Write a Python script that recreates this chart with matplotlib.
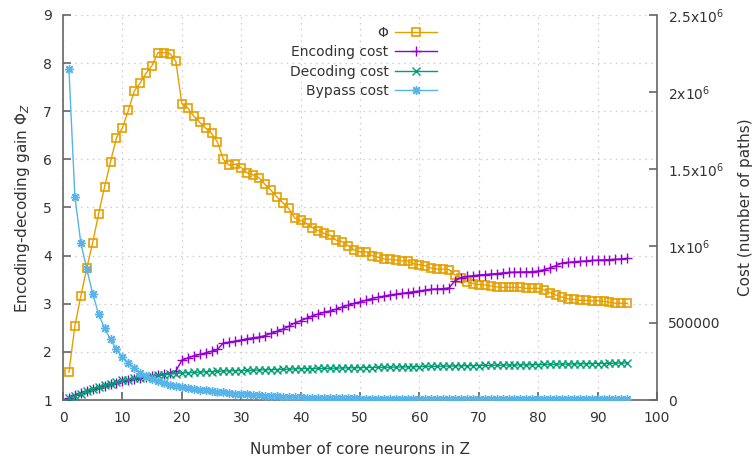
import matplotlib
matplotlib.use('Agg')
from matplotlib import pyplot as plt

# core neuron counts 1..95
neurons = list(range(1, 96))

phi = [1.58, 2.54, 3.16, 3.74, 4.27, 4.87, 5.43, 5.95, 6.45, 6.65,
       7.02, 7.42, 7.59, 7.79, 7.95, 8.22, 8.22, 8.20, 8.04, 7.16,
       7.07, 6.90, 6.77, 6.65, 6.54, 6.36, 6.00, 5.88, 5.90, 5.83,
       5.72, 5.68, 5.62, 5.48, 5.36, 5.22, 5.10, 4.98, 4.78, 4.73,
       4.67, 4.58, 4.52, 4.46, 4.42, 4.32, 4.29, 4.21, 4.12, 4.08,
       4.08, 4.00, 3.97, 3.93, 3.92, 3.91, 3.89, 3.89, 3.83, 3.81,
       3.79, 3.74, 3.72, 3.72, 3.71, 3.60, 3.53, 3.46, 3.42, 3.40,
       3.39, 3.37, 3.35, 3.34, 3.34, 3.34, 3.34, 3.32, 3.32, 3.32,
       3.29, 3.23, 3.18, 3.14, 3.10, 3.09, 3.07, 3.07, 3.06, 3.06,
       3.05, 3.03, 3.01, 3.01, 3.01]

encoding_cost = [14000, 32000, 48000, 60000, 69000, 79000, 90000, 102000, 113000, 122000,
                 129000, 137000, 143000, 150000, 156000, 162000, 168000, 176000, 188000, 258000,
                 273000, 287000, 296000, 306000, 316000, 328000, 370000, 376000, 382000, 390000,
                 398000, 404000, 409000, 418000, 432000, 445000, 460000, 478000, 500000, 515000,
                 530000, 546000, 560000, 570000, 578000, 590000, 604000, 616000, 627000, 638000,
                 648000, 659000, 667000, 674000, 682000, 687000, 692000, 698000, 703000, 708000,
                 714000, 719000, 721000, 723000, 728000, 775000, 795000, 802000, 807000, 812000,
                 814000, 818000, 821000, 825000, 828000, 830000, 831000, 832000, 833000, 838000,
                 846000, 858000, 872000, 890000, 894000, 897000, 900000, 903000, 906000, 908000,
                 910000, 912000, 914000, 916000, 920000]

decoding_cost = [10000, 26000, 42000, 58000, 71000, 84000, 97000, 107000, 117000, 127000,
                 133000, 140000, 146000, 151000, 156000, 160000, 164000, 169000, 172000, 175000,
                 177000, 179000, 181000, 183000, 185000, 186000, 188000, 189000, 190000, 191000,
                 192000, 193000, 195000, 196000, 197000, 198000, 199000, 200000, 202000, 203000,
                 204000, 204000, 205000, 206000, 206000, 207000, 208000, 209000, 209000, 210000,
                 211000, 211000, 212000, 213000, 213000, 214000, 215000, 215000, 216000, 217000,
                 218000, 218000, 219000, 220000, 220000, 221000, 222000, 222000, 223000, 224000,
                 225000, 225000, 226000, 226000, 227000, 227000, 228000, 228000, 229000, 230000,
                 231000, 231000, 232000, 233000, 233000, 234000, 235000, 235000, 236000, 237000,
                 237000, 238000, 239000, 240000, 241000]

bypass_cost = [2147000, 1320000, 1020000, 850000, 690000, 558000, 465000, 394000, 329000, 280000,
               240000, 208000, 176000, 154000, 137000, 122000, 110000, 100000, 93000, 86000,
               79000, 73000, 68000, 63000, 58000, 54000, 50000, 46000, 42000, 39000,
               36000, 33000, 31000, 28000, 26000, 24000, 22000, 20000, 19000, 17000,
               16000, 15000, 14000, 13000, 12000, 12000, 11000, 10000, 10000, 9000,
               9000, 8000, 8000, 8000, 7000, 7000, 7000, 7000, 6000, 6000,
               6000, 6000, 6000, 6000, 6000, 6000, 6000, 6000, 6000, 6000,
               6000, 6000, 6000, 6000, 6000, 6000, 6000, 6000, 6000, 6000,
               6000, 6000, 6000, 6000, 6000, 6000, 6000, 6000, 6000, 6000,
               6000, 6000, 6000, 6000, 6000]

x_ticks = list(range(0, 101, 10))
gain_ticks = list(range(1, 10))
cost_ticks = [0, 500000, 1000000, 1500000, 2000000, 2500000]
cost_tick_labels = ['0', '500000', '1x10$^{6}$', '1.5x10$^{6}$', '2x10$^{6}$', '2.5x10$^{6}$']

text_color = '#333333'
axis_color = '#666666'

plt.rcParams['font.family'] = ['DejaVu Sans']
plt.rcParams['mathtext.fontset'] = 'dejavusans'

fig = plt.figure(figsize=(7.52, 4.59), dpi=100)
ax = fig.add_axes([63 / 752, 59 / 459, 594 / 752, 385 / 459])
ax2 = ax.twinx()

ax.plot(neurons, phi, color='#E69F00', lw=1.0, marker='s', ms=5.5,
        mfc='none', mew=1.2, label='Φ')
ax2.plot(neurons, encoding_cost, color='#9400D3', lw=1.0, marker='+', ms=7.5,
         mew=1.0, label='Encoding cost')
ax2.plot(neurons, decoding_cost, color='#009E73', lw=1.0, marker='x', ms=5.5,
         mew=1.0, label='Decoding cost')
ax2.plot(neurons, bypass_cost, color='#56B4E9', lw=1.0, marker=(8, 2, 0), ms=6.5,
         mew=1.0, label='Bypass cost')

ax.set_xlim(0, 100)
ax.set_ylim(1, 9)
ax2.set_ylim(0, 2500000)

ax.set_xticks(x_ticks)
ax.set_yticks(gain_ticks)
ax2.set_yticks(cost_ticks)
ax2.set_yticklabels(cost_tick_labels)

for a in (ax, ax2):
    for side in ('left', 'right', 'bottom'):
        a.spines[side].set_color(axis_color)
        a.spines[side].set_linewidth(1.2)
    a.spines['top'].set_visible(False)

ax.spines['right'].set_visible(False)
ax2.spines['left'].set_visible(False)
ax2.spines['bottom'].set_visible(False)

ax.tick_params(axis='both', direction='in', length=6, width=1.2, color=axis_color,
               labelcolor=text_color, labelsize=10, right=False, top=False)
ax.tick_params(axis='y', pad=8)
ax.tick_params(axis='x', pad=8)
ax2.tick_params(axis='y', direction='in', length=6, width=1.2, color=axis_color,
                labelcolor=text_color, labelsize=10, pad=8)

ax.grid(True, color='#cccccc', lw=0.9, linestyle=(0, (1.2, 3.5)))
ax.set_axisbelow(True)

ax.set_xlabel('Number of core neurons in Z', fontsize=11, color=text_color, labelpad=12)
ax.set_ylabel('Encoding-decoding gain Φ$_Z$', fontsize=11, color=text_color, labelpad=8)
ax2.set_ylabel('Cost (number of paths)', fontsize=11, color=text_color, labelpad=10)

handles = ax.get_lines()[:1] + ax2.get_lines()
labels = [h.get_label() for h in handles]
fig.legend(handles, labels, loc='upper right', bbox_to_anchor=(437 / 752, 1 - 26 / 459),
           frameon=False, markerfirst=False, fontsize=10, labelcolor=text_color,
           handlelength=3.0, handletextpad=0.5, labelspacing=0.38,
           borderpad=0, borderaxespad=0, numpoints=1)

fig.savefig('out.png', dpi=100)
